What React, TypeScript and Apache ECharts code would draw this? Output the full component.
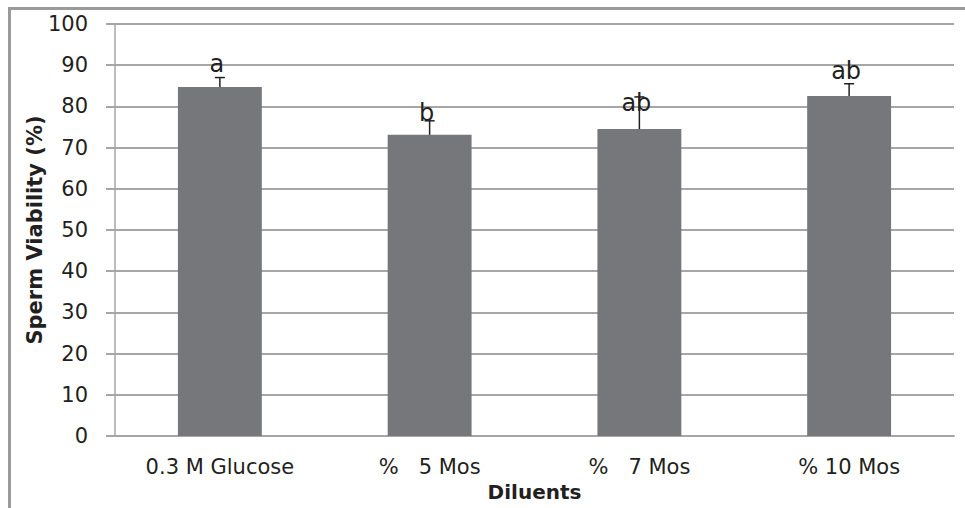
import React, { useEffect, useRef } from "react";
import * as echarts from "echarts";

const categories = ["0.3 M Glucose", "%   5 Mos", "%   7 Mos", "% 10 Mos"];
const viability = [84.7, 73.1, 74.5, 82.5];
const errors = [2.3, 3.4, 7.8, 3.0];
const letters = ["a", "b", "ab", "ab"];
const letterAt = [87.4, 75.6, 78.0, 85.8];
const yTicks = { min: 0, max: 100, interval: 10 };

const FONT = "DejaVu Sans";
const TEXT = "#231f20";
const GRID = "#a6a6a6";

export default function App() {
  const ref = useRef<HTMLDivElement>(null);
  useEffect(() => {
    const chart = echarts.init(ref.current!, null, { renderer: "svg" });
    const errData = viability.map((v, i) => [i, v, v + errors[i], letterAt[i]]);
    chart.setOption({
      animation: false,
      backgroundColor: "#ffffff",
      graphic: [
        {
          type: "rect",
          shape: { x: 9.5, y: 8.5, width: 980, height: 520 },
          style: { fill: "none", stroke: "#9a9a9a", lineWidth: 3 },
          silent: true,
          z: 0,
        },
      ],
      grid: { left: 115, right: 11, top: 24, bottom: 72, containLabel: false },
      xAxis: {
        type: "category",
        data: categories,
        name: "Diluents",
        nameLocation: "middle",
        nameGap: 46,
        nameMoveOverlap: false,
        nameTextStyle: { fontFamily: FONT, fontWeight: "bold", fontSize: 20, color: TEXT },
        axisLine: { show: true, lineStyle: { color: GRID, width: 2 } },
        axisTick: { show: false },
        axisLabel: { fontFamily: FONT, fontSize: 21, color: TEXT, margin: 20 },
      },
      yAxis: {
        type: "value",
        min: yTicks.min,
        max: yTicks.max,
        interval: yTicks.interval,
        name: "Sperm Viability (%)",
        nameLocation: "middle",
        nameGap: 70,
        nameMoveOverlap: false,
        nameTextStyle: { fontFamily: FONT, fontWeight: "bold", fontSize: 21, color: TEXT },
        axisLine: { show: true, lineStyle: { color: GRID, width: 1.5 } },
        axisTick: { show: true, length: 9, lineStyle: { color: GRID, width: 2 } },
        axisLabel: { fontFamily: FONT, fontSize: 21, color: TEXT, margin: 27 },
        splitLine: { show: true, lineStyle: { color: GRID, width: 2 } },
      },
      series: [
        {
          type: "bar",
          data: viability,
          barWidth: "40%",
          itemStyle: { color: "#76777a" },
          z: 2,
        },
        {
          type: "custom",
          data: errData,
          z: 3,
          renderItem: (params: any, api: any) => {
            const i = api.value(0);
            const base = api.coord([i, api.value(1)]);
            const top = api.coord([i, api.value(2)]);
            const lab = api.coord([i, api.value(3)]);
            const x = base[0];
            return {
              type: "group",
              children: [
                {
                  type: "line",
                  shape: { x1: x, y1: base[1], x2: x, y2: top[1] },
                  style: { stroke: "#231f20", lineWidth: 1.5 },
                },
                {
                  type: "line",
                  shape: { x1: x - 5, y1: top[1], x2: x + 5, y2: top[1] },
                  style: { stroke: "#231f20", lineWidth: 1.5 },
                },
                {
                  type: "text",
                  x: x - 3,
                  y: lab[1],
                  style: {
                    text: letters[params.dataIndex],
                    fontFamily: FONT,
                    fontSize: 24,
                    fill: TEXT,
                    align: "center",
                    verticalAlign: "bottom",
                  },
                },
              ],
            };
          },
        },
      ],
    });
    return () => chart.dispose();
  }, []);
  return <div ref={ref} style={{ width: 965, height: 508, position: "absolute", left: 0, top: 0 }} />;
}
